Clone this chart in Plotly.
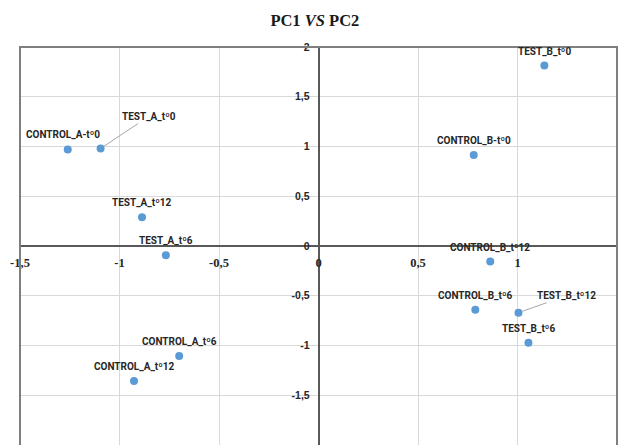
import plotly.graph_objects as go

# ---- data ----
labels = ["CONTROL_A-tº0", "TEST_A_tº0", "TEST_A_tº12", "TEST_A_tº6",
          "CONTROL_A_tº6", "CONTROL_A_tº12", "TEST_B_tº0", "CONTROL_B-tº0",
          "CONTROL_B_tº12", "CONTROL_B_tº6", "TEST_B_tº12", "TEST_B_tº6"]
pc1 = [-1.26, -1.095, -0.887, -0.767, -0.70, -0.927, 1.135, 0.78,
       0.863, 0.788, 1.005, 1.055]
pc2 = [0.97, 0.98, 0.29, -0.093, -1.106, -1.356, 1.814, 0.914,
       -0.157, -0.64, -0.67, -0.973]

x_tickvals = [-1.5, -1, -0.5, 0, 0.5, 1, 1.5]
x_ticktext = ["-1,5", "-1", "-0,5", "0", "0,5", "1", "1,5"]
y_tickvals = [-2, -1.5, -1, -0.5, 0, 0.5, 1, 1.5, 2]
y_ticktext = ["-2", "-1,5", "-1", "-0,5", "0", "0,5", "1", "1,5", "2"]

x_range = [-1.5, 1.5]
y_range = [-2, 2]

# label placement styles (pixel offsets of label centre from point)
label_style = {
    "CONTROL_A-tº0": dict(xshift=-5, yshift=15),
    "TEST_A_tº0": dict(leader=(48, -32)),
    "TEST_B_tº12": dict(leader=(48, -17)),
}

fig = go.Figure()
fig.add_trace(go.Scatter(
    x=pc1, y=pc2, mode="markers",
    marker=dict(color="#5b9bd5", size=8),
    hoverinfo="text", text=labels, showlegend=False,
))

lab_font = dict(family="Roboto, Liberation Sans, Arial", size=10, color="#262626")
for lab, x, y in zip(labels, pc1, pc2):
    st = label_style.get(lab, {})
    if "leader" in st:
        ax, ay = st["leader"]
        fig.add_annotation(x=x, y=y, text="<b>%s</b>" % lab, showarrow=True,
                           ax=ax, ay=ay, arrowhead=0, arrowwidth=1,
                           arrowcolor="#a6a6a6", standoff=4, font=lab_font)
    else:
        fig.add_annotation(x=x, y=y, text="<b>%s</b>" % lab, showarrow=False,
                           xshift=st.get("xshift", 0), yshift=st.get("yshift", 14.5),
                           font=lab_font)

xpos = (0 - y_range[0]) / (y_range[1] - y_range[0])
ypos = (0 - x_range[0]) / (x_range[1] - x_range[0])

fig.update_layout(
    width=621, height=445,
    margin=dict(l=20, r=4, t=47, b=0),
    paper_bgcolor="white", plot_bgcolor="white",
    title=dict(text="<b>PC1 <i>VS</i> PC2</b>", x=0.507, xanchor="center",
               y=0.955, yanchor="middle",
               font=dict(family="Liberation Serif, Times New Roman", size=16.5,
                         color="#1a1a1a")),
    xaxis=dict(range=x_range, tickvals=x_tickvals, ticktext=x_ticktext,
               showgrid=True, gridcolor="#d9d9d9", gridwidth=1,
               zeroline=False, showline=True, linecolor="#595959", linewidth=1.5,
               anchor="free", position=xpos, ticks="", ticklabelstandoff=5,
               tickfont=dict(family="Liberation Serif, Times New Roman", size=12.5,
                             color="#262626", weight="bold")),
    yaxis=dict(range=y_range, tickvals=y_tickvals, ticktext=y_ticktext,
               showgrid=True, gridcolor="#d9d9d9", gridwidth=1,
               zeroline=False, showline=True, linecolor="#595959", linewidth=1.5,
               anchor="free", position=ypos, ticks="", ticklabelstandoff=6,
               tickfont=dict(family="Liberation Sans, Arial", size=10.5,
                             color="#262626", weight="bold")),
    shapes=[dict(type="rect", xref="paper", yref="paper", x0=0, x1=1, y0=-0.05, y1=1,
                 line=dict(color="#7f7f7f", width=2), layer="above")],
)

fig.write_html("out.html")
